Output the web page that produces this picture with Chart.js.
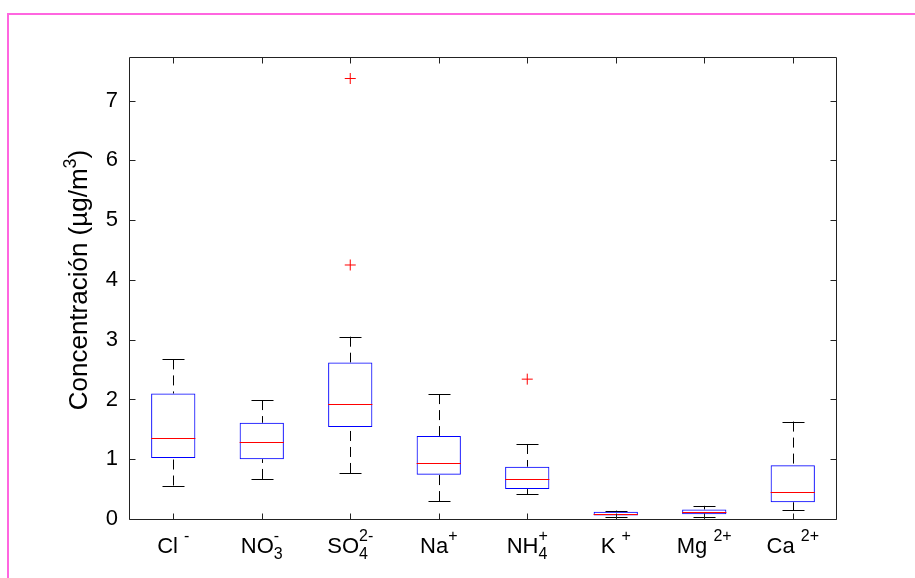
<!DOCTYPE html>
<html>
<head>
<meta charset="utf-8">
<script src="https://cdn.jsdelivr.net/npm/chart.js@4.4.0/dist/chart.umd.min.js"></script>
<style>
html, body { margin: 0; padding: 0; background: #fff; }
#wrap { position: relative; width: 915px; height: 578px; overflow: hidden; }
#marco { position: absolute; left: 7px; top: 13px; width: 1000px; height: 1000px;
         border-left: 2px solid #ff66e0; border-top: 2px solid #ff66e0; }
canvas { position: absolute; left: 0; top: 0; }
</style>
</head>
<body>
<div id="wrap">
  <div id="marco"></div>
  <canvas id="graf_iones" width="915" height="578"></canvas>
</div>
<script>
// iones medidos (una caja por ion)
const iones = ['Cl', 'NO3', 'SO4', 'Na', 'NH4', 'K', 'Mg', 'Ca']
// etiquetas: texto base, subindice y superindice
const etiquetaBase = ['Cl ', 'NO', 'SO', 'Na', 'NH', 'K ', 'Mg ', 'Ca ']
const etiquetaSub = ['', '3', '4', '', '4', '', '', '']
const etiquetaSup = ['-', '-', '2-', '+', '+', '+', '2+', '2+']

// estadisticos de cada caja (ug/m3)
const bigoteInf = [0.56, 0.67, 0.77, 0.30, 0.41, 0.03, 0.04, 0.15]
const cuartil1 = [1.02, 1.00, 1.54, 0.74, 0.50, 0.06, 0.08, 0.28]
const mediana = [1.36, 1.28, 1.92, 0.94, 0.67, 0.09, 0.12, 0.45]
const cuartil3 = [2.10, 1.61, 2.62, 1.39, 0.875, 0.12, 0.16, 0.90]
const bigoteSup = [2.67, 1.99, 3.05, 2.09, 1.255, 0.14, 0.22, 1.63]

// valores atipicos
const atipicoIon = ['SO4', 'SO4', 'NH4']
const atipicoValor = [7.37, 4.25, 2.34]

const yMax = 7.73
const marcasY = [0, 1, 2, 3, 4, 5, 6, 7]

const fuente = "'Liberation Sans', Arial, Helvetica, sans-serif"

let cajas = []
for (let i = 0; i < iones.length; i++) {
    cajas.push([cuartil1[i], cuartil3[i]])
}
let atipicos = []
for (let i = 0; i < atipicoIon.length; i++) {
    atipicos.push({x: atipicoIon[i], y: atipicoValor[i]})
}

const dibujoCajas = {
    id: 'dibujoCajas',
    beforeDatasetsDraw(chart) {
        // bigotes discontinuos y sus topes
        const {ctx, scales: {x, y}} = chart
        ctx.save()
        ctx.strokeStyle = '#000'
        ctx.lineWidth = 1
        for (let i = 0; i < iones.length; i++) {
            const cx = Math.round(x.getPixelForValue(i)) + 0.5
            const ySup = y.getPixelForValue(bigoteSup[i])
            const yInf = y.getPixelForValue(bigoteInf[i])
            ctx.setLineDash([10, 6])
            ctx.beginPath()
            ctx.moveTo(cx, ySup)
            ctx.lineTo(cx, y.getPixelForValue(cuartil3[i]))
            ctx.moveTo(cx, yInf)
            ctx.lineTo(cx, y.getPixelForValue(cuartil1[i]))
            ctx.stroke()
            ctx.setLineDash([])
            ctx.beginPath()
            ctx.moveTo(cx - 11, Math.round(ySup) + 0.5)
            ctx.lineTo(cx + 11, Math.round(ySup) + 0.5)
            ctx.moveTo(cx - 11, Math.round(yInf) + 0.5)
            ctx.lineTo(cx + 11, Math.round(yInf) + 0.5)
            ctx.stroke()
        }
        ctx.restore()
    },
    afterDatasetsDraw(chart) {
        const {ctx, chartArea: a, scales: {x, y}} = chart
        ctx.save()
        // medianas
        ctx.strokeStyle = '#ff0000'
        ctx.lineWidth = 1
        const medio = x.getPixelForValue(1) - x.getPixelForValue(0)
        for (let i = 0; i < iones.length; i++) {
            const cx = x.getPixelForValue(i)
            const ym = Math.round(y.getPixelForValue(mediana[i])) + 0.5
            ctx.beginPath()
            ctx.moveTo(cx - medio / 4, ym)
            ctx.lineTo(cx + medio / 4, ym)
            ctx.stroke()
        }

        // marco de los ejes con marcas hacia dentro
        ctx.strokeStyle = '#222'
        const l = a.left + 0.5, r = a.right - 0.5, t = a.top + 0.5, b = a.bottom + 0.5
        ctx.beginPath()
        ctx.rect(l, t, r - l, b - t)
        for (const v of marcasY) {
            const py = Math.round(y.getPixelForValue(v)) + 0.5
            ctx.moveTo(l, py); ctx.lineTo(l + 6, py)
            ctx.moveTo(r, py); ctx.lineTo(r - 6, py)
        }
        for (let i = 0; i < iones.length; i++) {
            const px = Math.round(x.getPixelForValue(i)) + 0.5
            ctx.moveTo(px, t); ctx.lineTo(px, t + 6)
            ctx.moveTo(px, b); ctx.lineTo(px, b - 6)
        }
        ctx.stroke()

        // etiquetas del eje x con sub y superindices
        ctx.fillStyle = '#000'
        ctx.textBaseline = 'alphabetic'
        ctx.textAlign = 'left'
        const base = a.bottom + 34
        for (let i = 0; i < iones.length; i++) {
            ctx.font = '22px ' + fuente
            const wBase = ctx.measureText(etiquetaBase[i]).width
            ctx.font = '16px ' + fuente
            const wSub = ctx.measureText(etiquetaSub[i]).width
            const wSup = ctx.measureText(etiquetaSup[i]).width
            const total = wBase + Math.max(wSub, wSup)
            const x0 = x.getPixelForValue(i) - total / 2
            ctx.font = '22px ' + fuente
            ctx.fillText(etiquetaBase[i], x0, base)
            ctx.font = '16px ' + fuente
            if (etiquetaSub[i]) ctx.fillText(etiquetaSub[i], x0 + wBase, base + 6)
            ctx.fillText(etiquetaSup[i], x0 + wBase, base - 12)
        }

        // titulo del eje y
        const partes = [['Concentración (µg/m', 26, 0], ['3', 18, -11], [')', 26, 0]]
        let ancho = 0
        for (const p of partes) {
            ctx.font = p[1] + 'px ' + fuente
            ancho += ctx.measureText(p[0]).width
        }
        ctx.translate(87, (a.top + a.bottom) / 2 - 8)
        ctx.rotate(-Math.PI / 2)
        let pos = -ancho / 2
        for (const p of partes) {
            ctx.font = p[1] + 'px ' + fuente
            ctx.fillText(p[0], pos, p[2])
            pos += ctx.measureText(p[0]).width
        }
        ctx.restore()
    }
}

const ctxIones = document.getElementById('graf_iones').getContext('2d')
const chartIones = new Chart(ctxIones, {
    type: 'bar',
    data: {
        labels: iones,
        datasets: [{
                label: 'Cajas',
                data: cajas,
                backgroundColor: 'rgba(0,0,0,0)',
                borderColor: '#0000ff',
                borderWidth: 1,
                borderSkipped: false,
                barPercentage: 0.5,
                categoryPercentage: 1
            }, {
                type: 'line',
                label: 'Atípicos',
                data: atipicos,
                showLine: false,
                pointStyle: 'cross',
                pointRadius: 5.5,
                pointBorderColor: '#ff0000',
                pointBackgroundColor: '#ff0000',
                pointBorderWidth: 1
            }]
    },
    options: {
        responsive: false,
        animation: false,
        devicePixelRatio: 1,
        layout: {padding: {left: 0, top: 57, right: 78, bottom: 0}},
        plugins: {legend: {display: false}, tooltip: {enabled: false}},
        scales: {
            x: {
                grid: {display: false, drawTicks: false},
                border: {display: false},
                ticks: {display: false},
                afterFit(s) { s.height = 59 }
            },
            y: {
                min: 0,
                max: yMax,
                grid: {display: false, drawTicks: false},
                border: {display: false},
                ticks: {
                    stepSize: 1,
                    includeBounds: false,
                    padding: 11,
                    color: '#000',
                    font: {family: fuente, size: 22}
                },
                afterFit(s) { s.width = 129 }
            }
        }
    },
    plugins: [dibujoCajas]
})
</script>
</body>
</html>
